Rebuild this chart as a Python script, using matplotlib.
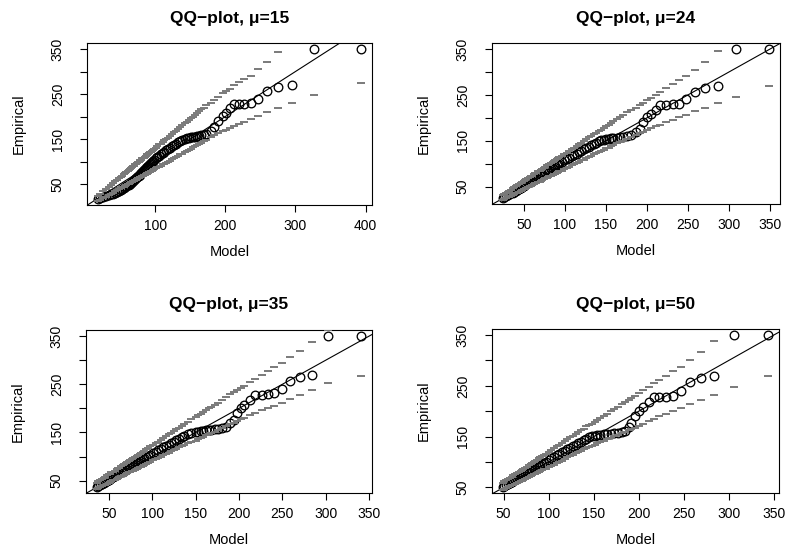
import matplotlib
matplotlib.use("Agg")
import matplotlib.pyplot as plt
import numpy as np

plt.rcParams["font.family"] = ["Liberation Sans", "DejaVu Sans"]

# thresholds, one panel each
mus = [15, 24, 35, 50]

# empirical exceedances (sorted), shared by all panels; each panel keeps values > mu
empirical = [17, 19, 21, 23, 25, 27, 29, 31, 33, 35, 37, 39, 41, 43, 45, 47, 49, 51, 53, 55,
             57, 59, 61, 63, 65, 67, 69, 71, 73, 75, 77, 79, 81, 83, 85, 87, 89, 91, 93, 95,
             97, 99, 101,
             104, 107, 110, 113, 116, 119, 122, 125, 128, 131, 134, 137, 140, 143, 146, 149,
             151, 152, 153, 154, 155, 155, 156, 157, 158, 160, 162,
             169, 176, 190, 201, 208, 218, 228, 228, 229, 231, 240, 257, 265, 270, 350, 350]

# model quantiles and envelope per threshold
model_15 = [18, 22, 26, 30, 34, 37, 40, 43, 46, 49, 51, 53, 55, 57, 59, 61, 63, 64, 66, 67,
            69, 70, 72, 73, 74, 76, 77, 78, 79, 80, 82, 83, 84, 85, 87, 88, 89, 90, 92, 93,
            94, 95, 97,
            99, 101, 103, 106, 108, 111, 113, 116, 118, 121, 124, 127, 130, 133, 136, 139,
            142, 145, 148, 151, 154, 157, 160, 163, 166, 169, 173,
            179, 184, 190, 197, 201, 206, 212, 219, 226, 236, 247, 259, 275, 295, 327, 394]
lower_15 = [12, 15, 19, 22, 26, 29, 31, 34, 36, 39, 41, 43, 44, 46, 48, 50, 51, 52, 54, 55,
            57, 58, 59, 60, 61, 63, 64, 65, 66, 66, 68, 69, 70, 71, 73, 73, 74, 75, 77, 78,
            79, 80, 81,
            83, 85, 87, 89, 91, 94, 95, 98, 100, 102, 105, 108, 110, 113, 116, 118,
            121, 124, 126, 129, 132, 134, 137, 139, 142, 145, 148,
            155, 158, 163, 168, 170, 174, 179, 184, 188, 195, 202, 210, 218, 230, 248, 275]
upper_15 = [23, 29, 34, 39, 44, 48, 52, 56, 60, 64, 66, 69, 72, 74, 77, 79, 82, 83, 86, 87,
            90, 91, 94, 95, 96, 99, 100, 101, 103, 104, 107, 108, 109, 111, 113, 114, 116, 117, 120, 121,
            122, 124, 126,
            129, 131, 134, 138, 140, 144, 147, 151, 153, 157, 161, 165, 169, 173, 177, 181,
            185, 189, 192, 196, 200, 204, 208, 212, 216, 220, 225,
            231, 237, 244, 252, 257, 262, 269, 276, 283, 290, 305, 322, 343, 370, 410, 490]

model_24 = [24, 26, 28, 30, 32, 34, 36, 38, 40, 42, 44, 46, 48, 50, 51, 53, 55, 57, 58, 60,
            62, 64, 65, 67, 69, 71, 72, 74, 76, 78, 79, 81, 83, 85, 86, 88, 90, 92, 93,
            96, 99, 102, 105, 108, 111, 114, 117, 120, 123, 126, 129, 132, 135, 138, 141,
            144, 147, 150, 153, 156, 159, 163, 167, 171, 176, 181,
            186, 191, 195, 200, 205, 211, 216, 223, 231, 239, 248, 258, 271, 286, 308, 349]
lower_24 = [21, 23, 25, 27, 28, 30, 32, 34, 36, 37, 39, 41, 43, 45, 45, 47, 49, 51, 52, 53,
            55, 57, 58, 60, 61, 63, 64, 66, 68, 69, 70, 72, 74, 76, 77, 78, 80, 82, 83,
            85, 88, 91, 93, 96, 99, 101, 104, 107, 109, 112, 115, 117, 120, 123, 125,
            128, 130, 133, 135, 138, 141, 144, 147, 150, 154, 158,
            162, 166, 169, 173, 177, 181, 185, 190, 195, 201, 207, 214, 221, 232, 246, 270]
upper_24 = [32, 34, 36, 39, 41, 43, 46, 48, 51, 53, 55, 58, 60, 63, 64, 66, 68, 71, 72, 74,
            77, 79, 80, 83, 85, 87, 89, 91, 93, 96, 97, 99, 102, 104, 105, 108, 110, 112, 114,
            117, 121, 124, 128, 132, 135, 139, 142, 146, 149, 153, 157, 160, 164, 167, 171,
            174, 178, 181, 185, 189, 192, 197, 202, 206, 212, 218,
            222, 228, 232, 238, 244, 250, 256, 264, 273, 282, 291, 304, 322, 346, 372, 420]

model_35 = [36, 38, 40, 42, 44, 46, 48, 50, 51, 53, 55, 57, 59, 61, 62, 64, 66, 68, 70, 71,
            73, 75, 77, 78, 80, 82, 84, 86, 87, 89, 91, 93, 95,
            98, 101, 104, 107, 110, 113, 116, 119, 122, 125, 128, 131, 134, 137, 141, 145,
            150, 153, 156, 159, 162, 165, 168, 172, 176, 180, 185,
            190, 194, 198, 202, 206, 213, 218, 226, 233, 240, 249, 259, 270, 284, 303, 341]
lower_35 = [33, 35, 37, 39, 41, 42, 44, 46, 47, 49, 51, 52, 54, 56, 57, 59, 60, 62, 64, 65,
            67, 69, 70, 71, 73, 75, 77, 78, 79, 81, 83, 85, 87,
            89, 92, 95, 97, 100, 103, 105, 108, 111, 113, 116, 119, 122, 124, 128, 131,
            133, 136, 138, 141, 144, 146, 149, 152, 156, 159, 163,
            167, 170, 173, 177, 180, 186, 190, 196, 201, 205, 211, 220, 228, 238, 252, 268]
upper_35 = [46, 49, 51, 53, 56, 58, 61, 63, 64, 67, 69, 71, 74, 76, 77, 80, 82, 85, 87, 88,
            91, 93, 95, 97, 99, 101, 104, 106, 107, 110, 112, 115, 117,
            121, 124, 128, 131, 135, 139, 142, 146, 149, 153, 157, 160, 164, 167, 172, 177,
            182, 186, 189, 193, 196, 200, 203, 208, 212, 217, 223,
            229, 233, 238, 243, 247, 255, 261, 270, 278, 286, 295, 306, 320, 338, 362, 405]

model_50 = [49, 51, 53, 55, 57, 59, 61, 63, 65, 67, 69, 70, 72, 74, 76, 78, 80, 82, 84, 85,
            87, 89, 91, 93, 95, 97,
            100, 103, 106, 109, 112, 115, 118, 121, 124, 127, 130, 133, 136, 139, 142, 145,
            148, 151, 154, 157, 161, 165, 169, 173, 177, 181, 185,
            189, 192, 196, 200, 205, 211, 217, 223, 230, 238, 247, 257, 269, 284, 306, 344]
lower_50 = [45, 46, 48, 50, 52, 54, 55, 57, 59, 61, 62, 63, 65, 67, 69, 70, 72, 74, 76, 77,
            78, 80, 82, 84, 86, 87,
            90, 93, 95, 98, 101, 103, 106, 109, 111, 114, 117, 119, 122, 125, 127, 130,
            132, 134, 137, 139, 142, 145, 148, 151, 154, 157, 160,
            163, 165, 168, 171, 175, 180, 185, 190, 195, 200, 207, 215, 222, 232, 248, 270]
upper_50 = [59, 62, 64, 66, 69, 71, 74, 76, 78, 81, 83, 84, 87, 89, 91, 94, 96, 99, 101, 102,
            105, 107, 109, 112, 114, 116,
            120, 124, 127, 131, 134, 138, 141, 145, 149, 152, 156, 159, 163, 166, 170, 173,
            175, 179, 182, 186, 191, 195, 200, 205, 209, 214, 218,
            223, 226, 231, 236, 241, 248, 255, 262, 270, 279, 287, 301, 316, 339, 365, 410]

x_ticks = [[100, 200, 300, 400]] + [[50, 100, 150, 200, 250, 300, 350]] * 3
y_ticks = [50, 100, 150, 200, 250, 300, 350]
y_labels = ["50", "", "150", "", "250", "", "350"]

models = [model_15, model_24, model_35, model_50]
lowers = [lower_15, lower_24, lower_35, lower_50]
uppers = [upper_15, upper_24, upper_35, upper_50]

W, H = 786, 552
# plot boxes in pixels: left, top, right, bottom
boxes = [(87, 43, 372, 205), (492, 43, 780, 204),
         (86, 330, 372, 493), (492, 329, 779, 493)]


def pad_range(v):
    lo, hi = min(v), max(v)
    d = 0.04 * (hi - lo)
    return lo - d, hi + d


fig = plt.figure(figsize=(W / 100, H / 100), dpi=100)
emp = np.array(empirical)

for i, mu in enumerate(mus):
    l, t, r, b = boxes[i]
    ax = fig.add_axes([l / W, 1 - b / H, (r - l) / W, (b - t) / H])
    y = emp[emp > mu]
    x = np.array(models[i])
    assert len(x) == len(y) == len(lowers[i]) == len(uppers[i]), (i, len(x), len(y))

    ax.plot(x, y, "o", ms=6.2, mfc="none", mec="black", mew=0.95, ls="none", zorder=2)
    ax.axline((0, 0), slope=1, color="black", lw=0.8, zorder=3)
    ax.plot(x, lowers[i], "_", ms=6.2, mew=1.4, color="#7a7a7a", ls="none", zorder=4)
    ax.plot(x, uppers[i], "_", ms=6.2, mew=1.4, color="#7a7a7a", ls="none", zorder=4)

    ax.set_xlim(*pad_range(x))
    ax.set_ylim(*pad_range(y))
    ax.set_xticks(x_ticks[i])
    ax.set_yticks(y_ticks)
    ax.set_yticklabels(y_labels)
    ax.tick_params(length=5, width=0.8, labelsize=10, direction="out")
    ax.tick_params(axis="x", pad=5)
    ax.tick_params(axis="y", pad=11)
    for lbl in ax.get_yticklabels():
        lbl.set_rotation(90)
        lbl.set_va("center")
    for s in ax.spines.values():
        s.set_linewidth(0.8)

    ax.annotate(f"QQ\u2212plot, \u03bc={mu}", xy=(0.5, 1), xycoords="axes fraction",
                xytext=(0, 18), textcoords="offset points", ha="center", va="center",
                fontsize=12.5, fontweight="bold")
    ax.annotate("Model", xy=(0.5, 0), xycoords="axes fraction",
                xytext=(0, -34), textcoords="offset points", ha="center", va="center",
                fontsize=10.5)
    ax.annotate("Empirical", xy=(0, 0.5), xycoords="axes fraction",
                xytext=(-49, 0), textcoords="offset points", ha="center", va="center",
                fontsize=10.5, rotation=90)

fig.savefig("out.png", dpi=100)
